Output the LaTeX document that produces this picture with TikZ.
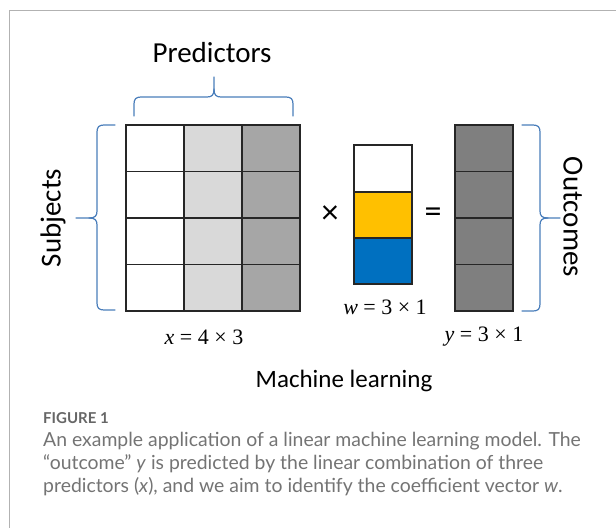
\documentclass[tikz,border=0pt]{standalone}
\usepackage{fontspec}
\setmainfont{Carlito}
\newfontfamily\capfont{Lato}
\newfontfamily\mathfont{Liberation Serif}
\begin{document}
\begin{tikzpicture}[x=1pt,y=-1pt,
  cell/.style={draw=black!85,line width=1.4pt},
  brace/.style={draw=brcol,line width=1.2pt,line cap=round,line join=round},
  lbl/.style={font=\fontsize{29}{32}\selectfont},
  op/.style={font=\fontsize{34}{38}\selectfont},
  mathlbl/.style={font=\mathfont\fontsize{22}{24}\selectfont},
  captxt/.style={anchor=base west,inner sep=0pt,text=capgray,font=\capfont\fontsize{19.4}{22}\selectfont}]
\definecolor{brcol}{HTML}{4A7EBB}
\definecolor{capgray}{HTML}{747474}
\definecolor{lgray}{HTML}{D9D9D9}
\definecolor{mgray}{HTML}{A6A6A6}
\definecolor{dgray}{HTML}{7F7F7F}
\definecolor{wyellow}{HTML}{FFC000}
\definecolor{wblue}{HTML}{0070C0}
\useasboundingbox (0,0) rectangle (616,528);
\fill[white] (0,0) rectangle (616,528);
% frame
\draw[draw=black!30,line width=1pt] (616,10) -- (9.5,10) -- (9.5,528);
% matrix x
\foreach \c/\col in {0/white,1/lgray,2/mgray}{
  \foreach \r in {0,1,2,3}{
    \draw[cell,fill=\col] ({126+58*\c},{125+46.5*\r}) rectangle ++(58,46.5);
  }
}
% vector w
\draw[cell,fill=white] (354,145) rectangle (412,192);
\draw[cell,fill=wyellow] (354,192) rectangle (412,238);
\draw[cell,fill=wblue] (354,238) rectangle (412,284);
% vector y
\foreach \r in {0,1,2,3}{
  \draw[cell,fill=dgray] (455,{125+46.5*\r}) rectangle ++(58,46.5);
}
% braces
\draw[brace] (134,116) -- (134,104) .. controls (134,99) and (136,97) .. (141,97) -- (207,97)
  .. controls (212,97) and (214,95) .. (214,89) -- (214,77);
\draw[brace] (214,89) .. controls (214,95) and (216,97) .. (221,97) -- (286,97)
  .. controls (291,97) and (293,99) .. (293,104) -- (293,116);
\draw[brace] (115,125) -- (104,125) .. controls (99,125) and (97,127) .. (97,132) -- (97,211)
  .. controls (97,216) and (95,218) .. (89,218) -- (76,218);
\draw[brace] (89,218) .. controls (95,218) and (97,220) .. (97,225) -- (97,303)
  .. controls (97,308) and (99,310) .. (104,310) -- (115,310);
\draw[brace] (522,125) -- (533,125) .. controls (538,125) and (540,127) .. (540,132) -- (540,211)
  .. controls (540,216) and (542,218) .. (548,218) -- (560,218);
\draw[brace] (548,218) .. controls (542,218) and (540,220) .. (540,225) -- (540,304)
  .. controls (540,309) and (538,311) .. (533,311) -- (522,311);
% labels
\node[lbl] (pred) at (212,53) {Predictors};
\node[lbl,rotate=90] (subj) at (53,218) {Subjects};
\node[lbl,rotate=-90] (outc) at (573,217) {Outcomes};
\node[op] (times) at (330,215) {×};
\node[op] (eq) at (433,215) {=};
\node[mathlbl] (xl) at (204,337) {\textit{x} = 4 × 3};
\node[mathlbl] (wl) at (385,307) {\textit{w} = 3 × 1};
\node[mathlbl] (yl) at (484,337) {\textit{y} = 3 × 1};
\node[font=\fontsize{25}{28}\selectfont] (ml) at (344,381) {Machine learning};
% caption
\node[captxt,font=\capfont\bfseries\fontsize{15}{18}\selectfont,text=black!60] (fig) at (43,423) {FIGURE 1};
\node[captxt] (c1) at (43,446) {An example application of a linear machine learning model. The};
\node[captxt] (c2) at (43,469) {“outcome” \textit{y} is predicted by the linear combination of three};
\node[captxt] (c3) at (43,492) {predictors (\textit{x}), and we aim to identify the coefficient vector \textit{w}.};
\end{tikzpicture}
\end{document}
